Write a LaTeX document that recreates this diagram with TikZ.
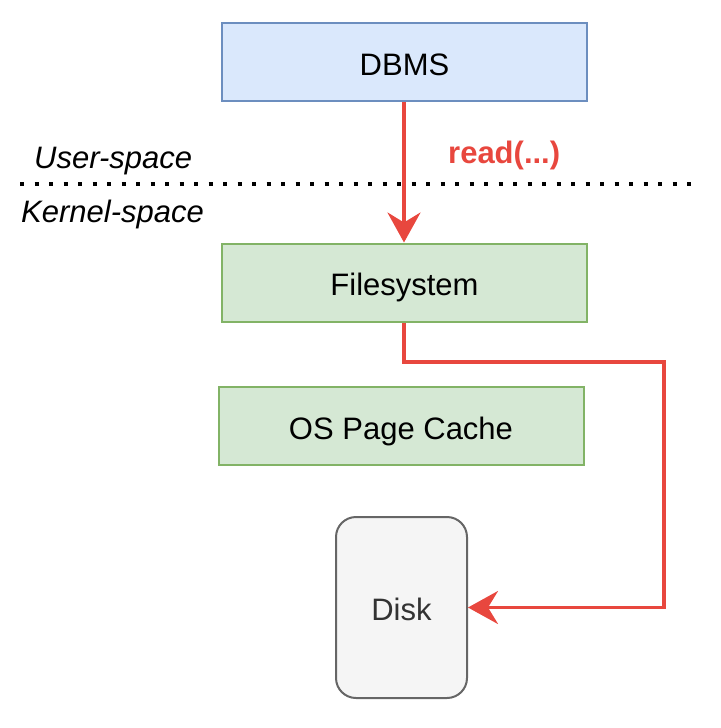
\documentclass[tikz,border=0pt]{standalone}
\usepackage{fontspec}
\setmainfont{Liberation Sans}
\usetikzlibrary{arrows.meta}
\definecolor{bluefill}{HTML}{DAE8FC}
\definecolor{bluedraw}{HTML}{6C8EBF}
\definecolor{greenfill}{HTML}{D5E8D4}
\definecolor{greendraw}{HTML}{82B366}
\definecolor{greyfill}{HTML}{F5F5F5}
\definecolor{greydraw}{HTML}{666666}
\definecolor{greytext}{HTML}{333333}
\definecolor{redline}{HTML}{E8473E}
\tikzset{
  box/.style={draw, line width=2pt, minimum width=365pt, minimum height=78pt, inner sep=0pt, text height=26pt, text depth=0pt, font=\fontsize{31}{36}\selectfont},
  bluebox/.style={box, fill=bluefill, draw=bluedraw},
  greenbox/.style={box, fill=greenfill, draw=greendraw},
  diskbox/.style={draw=greydraw, fill=greyfill, text=greytext, line width=2pt, rounded corners=20pt, minimum width=131pt, minimum height=181pt, inner sep=0pt, text height=26pt, text depth=0pt, font=\fontsize{31}{36}\selectfont},
  redarrow/.style={draw=redline, line width=3.5pt, -{Stealth[length=30pt,width=33pt,inset=10pt]}},
  lbl/.style={font=\fontsize{31}{36}\selectfont\itshape, inner sep=0pt},
}
\begin{document}
\begin{tikzpicture}[x=1pt,y=-1pt]
\useasboundingbox (0,0) rectangle (720,728);
\node[bluebox] (dbms) at (404.5,62) {DBMS};
\node[greenbox] (fs) at (404.5,282.5) {Filesystem};
\node[greenbox] (cache) at (401,426) {OS Page Cache};
\node[diskbox] (disk) at (401.5,607.5) {Disk};
\coordinate (dl) at (20,184);
\coordinate (dr) at (700,184);
\draw[line width=4pt, dash pattern=on 4pt off 10.5pt] (dl) -- (dr);
\node[lbl, anchor=west] (us) at (34,161) {User-space};
\node[lbl, anchor=west] (ks) at (21,214) {Kernel-space};
\node[font=\fontsize{31}{36}\selectfont\bfseries, text=redline, anchor=west, inner sep=0pt] (rd) at (448,155) {read(...)};
\draw[redarrow] (dbms.south -| 404,0) -- (fs.north -| 404,0);
\coordinate (c1) at (664,362);
\draw[redarrow] (fs.south -| 404,0) |- (c1) |- (disk.east);
\end{tikzpicture}
\end{document}
